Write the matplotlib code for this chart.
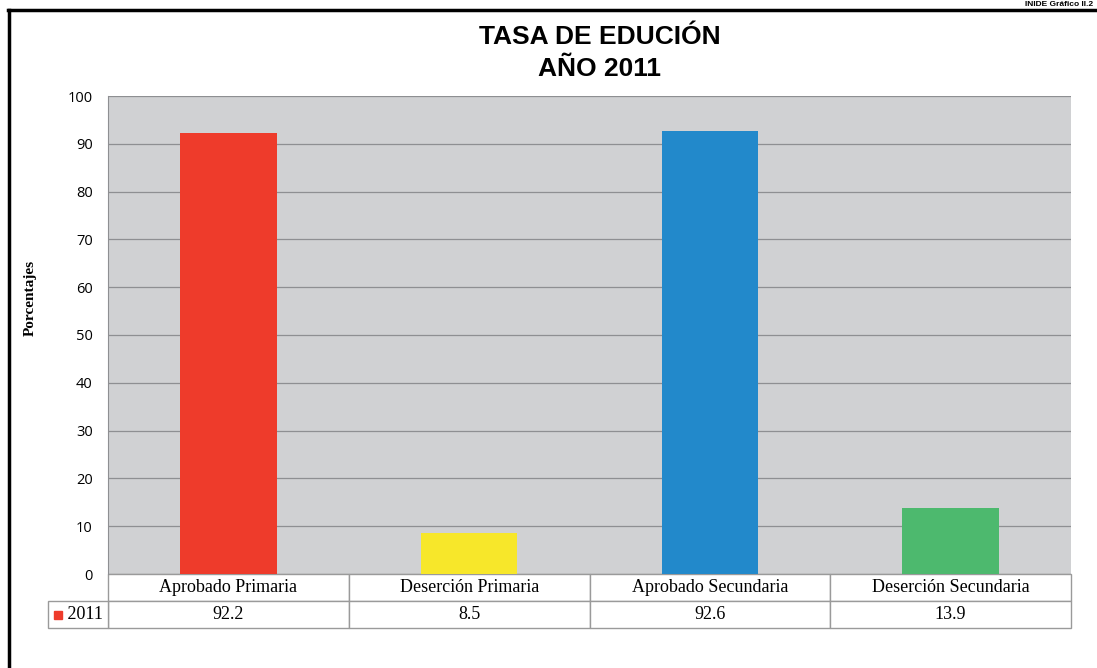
# -*- coding: utf-8 -*-
# bar chart with data table underneath: tasa de educacion 2011

import matplotlib.pyplot as plt
from matplotlib.patches import Rectangle
from matplotlib.lines import Line2D

# data
categorias = ["Aprobado Primaria", "Deserción Primaria",
              "Aprobado Secundaria", "Deserción Secundaria"]
valores = [92.2, 8.5, 92.6, 13.9]
serie = "2011"
colores = ["#EE3B2B", "#F7E72A", "#2289CB", "#4DB96E"]
yticks = [0, 10, 20, 30, 40, 50, 60, 70, 80, 90, 100]

W, H = 1097, 668
fig = plt.figure(figsize=(W / 100, H / 100), dpi=100)

# plot area in pixels
x0, x1, ytop, ybot = 108, 1071, 96, 574
ax = fig.add_axes([x0 / W, (H - ybot) / H, (x1 - x0) / W, (ybot - ytop) / H])
ax.set_facecolor("#D0D1D3")

x = range(len(categorias))
ax.bar(x, valores, width=0.4, color=colores, zorder=3)
ax.set_xlim(-0.5, len(categorias) - 0.5)
ax.set_ylim(0, 100)
ax.set_yticks(yticks)
ax.set_yticklabels([str(t) for t in yticks], fontsize=10.5, family="Open Sans")
ax.tick_params(axis="y", length=0, pad=11)
ax.set_xticks([])
ax.yaxis.grid(True, color="#8E8F92", linewidth=0.9, zorder=1)
for side in ["top", "right", "bottom"]:
    ax.spines[side].set_visible(False)
ax.spines["left"].set_color("#8E8F92")

# y label placed by hand so it stays inside the frame
fig.text(30 / W, 1 - 298 / H, "Porcentajes", rotation=90, ha="center",
         va="center", family="Liberation Serif", fontweight="bold",
         fontsize=11)

# data table below the plot
ph = ybot - ytop
pw = x1 - x0
row_h = 27 / ph
tbl = ax.table(cellText=[categorias, [str(v) for v in valores]],
               cellLoc="center", bbox=[0, -2 * row_h, 1, 2 * row_h])
tbl.auto_set_font_size(False)
for (r, c), cell in tbl.get_celld().items():
    cell.set_edgecolor("#9A9A9A")
    cell.set_linewidth(1.0)
    cell.get_text().set_fontfamily("Liberation Serif")
    cell.get_text().set_fontsize(13)

# row label cell with legend key
lab = ax.table(cellText=[["   " + serie]], cellLoc="center",
               bbox=[-60 / pw, -2 * row_h, 60 / pw, row_h])
lab.auto_set_font_size(False)
c = lab[0, 0]
c.set_edgecolor("#9A9A9A")
c.get_text().set_fontfamily("Liberation Serif")
c.get_text().set_fontsize(13)
ax.add_patch(Rectangle((-54 / pw, -1.66 * row_h), 8 / pw, 8 / ph,
                       transform=ax.transAxes, color=colores[0], clip_on=False))

# title
fig.text(600 / W, 1 - 37 / H, "TASA DE EDUCIÓN", ha="center", va="center",
         fontsize=19, fontweight="bold", family="Liberation Sans")
fig.text(600 / W, 1 - 69 / H, "AÑO 2011", ha="center", va="center",
         fontsize=19, fontweight="bold", family="Liberation Sans")

# outer frame (top and left only) and caption at the top corner
fig.add_artist(Line2D([8 / W, 1], [1 - 10 / H, 1 - 10 / H], color="black",
                      linewidth=2.5, transform=fig.transFigure))
fig.add_artist(Line2D([9 / W, 9 / W], [0, 1 - 10 / H], color="black",
                      linewidth=2.5, transform=fig.transFigure))
fig.text(1 - 4 / W, 1 - 8 / H, "INIDE Gráfico II.2", ha="right", va="bottom",
         fontsize=6, fontweight="bold", family="Liberation Sans")

fig.savefig("out.png", dpi=100)
